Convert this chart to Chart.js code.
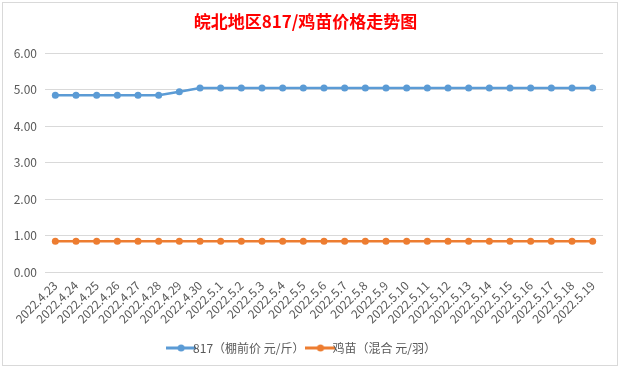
<!DOCTYPE html>
<html>
<head>
<meta charset="utf-8">
<script src="https://cdn.jsdelivr.net/npm/chart.js@4/dist/chart.umd.min.js"></script>
<style>
  html, body { margin: 0; padding: 0; background: #fff; }
  #wrap { width: 620px; height: 368px; position: relative; }
</style>
</head>
<body>
<div id="wrap"><canvas id="chartCanvas" width="620" height="368"></canvas></div>
<script>
const dates = [
  '2022.4.23','2022.4.24','2022.4.25','2022.4.26','2022.4.27','2022.4.28','2022.4.29','2022.4.30',
  '2022.5.1','2022.5.2','2022.5.3','2022.5.4','2022.5.5','2022.5.6','2022.5.7','2022.5.8','2022.5.9',
  '2022.5.10','2022.5.11','2022.5.12','2022.5.13','2022.5.14','2022.5.15','2022.5.16','2022.5.17',
  '2022.5.18','2022.5.19'
];

// 817 (棚前价 元/斤)
const price817 = [
  4.85, 4.85, 4.85, 4.85, 4.85, 4.85, 4.95, 5.05,
  5.05, 5.05, 5.05, 5.05, 5.05, 5.05, 5.05, 5.05, 5.05,
  5.05, 5.05, 5.05, 5.05, 5.05, 5.05, 5.05, 5.05,
  5.05, 5.05
];

// 鸡苗 (混合 元/羽)
const chickPrice = [
  0.85, 0.85, 0.85, 0.85, 0.85, 0.85, 0.85, 0.85,
  0.85, 0.85, 0.85, 0.85, 0.85, 0.85, 0.85, 0.85, 0.85,
  0.85, 0.85, 0.85, 0.85, 0.85, 0.85, 0.85, 0.85,
  0.85, 0.85
];

const seriesNames = ['817（棚前价 元/斤）', '鸡苗（混合 元/羽）'];
const seriesColors = ['#5b9bd5', '#ed7d31'];
const yTicks = [0, 1, 2, 3, 4, 5, 6];

const font = "'Noto Sans CJK SC', 'Noto Sans', sans-serif";
const textColor = '#595959';
const gridColor = '#d9d9d9';

// legend marker: short line with a dot in the middle
function legendMarker(color) {
  const c = document.createElement('canvas');
  c.width = 30;
  c.height = 10;
  const g = c.getContext('2d');
  g.strokeStyle = color;
  g.lineWidth = 3;
  g.beginPath();
  g.moveTo(0, 5);
  g.lineTo(30, 5);
  g.stroke();
  g.fillStyle = color;
  g.beginPath();
  g.arc(15, 5, 3.5, 0, Math.PI * 2);
  g.fill();
  return c;
}

// outer chart border, like the spreadsheet chart frame
const frame = {
  id: 'frame',
  beforeDraw: (chart) => {
    const ctx = chart.ctx;
    ctx.save();
    ctx.fillStyle = '#fff';
    ctx.fillRect(0, 0, chart.width, chart.height);
    ctx.strokeStyle = '#d9d9d9';
    ctx.lineWidth = 1;
    ctx.strokeRect(2.5, 2.5, 615, 363);
    ctx.restore();
  }
};

new Chart(document.getElementById('chartCanvas'), {
  type: 'line',
  data: {
    labels: dates,
    datasets: [
      {
        label: seriesNames[0],
        data: price817,
        borderColor: seriesColors[0],
        backgroundColor: seriesColors[0],
        borderWidth: 2.5,
        pointRadius: 3.5,
        pointBorderWidth: 0,
        tension: 0
      },
      {
        label: seriesNames[1],
        data: chickPrice,
        borderColor: seriesColors[1],
        backgroundColor: seriesColors[1],
        borderWidth: 2.5,
        pointRadius: 3.5,
        pointBorderWidth: 0,
        tension: 0
      }
    ]
  },
  options: {
    responsive: false,
    animation: false,
    layout: { padding: { left: 8, right: 17, top: 5, bottom: 4 } },
    scales: {
      x: {
        offset: true,
        grid: { display: false, drawTicks: false },
        border: { display: false },
        ticks: {
          color: textColor,
          font: { family: font, size: 12 },
          minRotation: 45,
          maxRotation: 45,
          autoSkip: false,
          padding: 6
        }
      },
      y: {
        min: 0,
        max: 6,
        afterBuildTicks: (scale) => {
          scale.ticks = yTicks.map(v => ({ value: v }));
        },
        afterFit: (scale) => { scale.width = 37; },
        grid: { color: gridColor, drawTicks: false, lineWidth: 1 },
        border: { display: false },
        ticks: {
          color: textColor,
          font: { family: font, size: 12 },
          padding: 8,
          callback: v => Number(v).toFixed(2)
        }
      }
    },
    plugins: {
      title: {
        display: true,
        text: '皖北地区817/鸡苗价格走势图',
        color: '#ff0000',
        font: { family: font, size: 17, weight: 'bold' },
        padding: { top: 6, bottom: 22 }
      },
      legend: {
        position: 'bottom',
        labels: {
          color: textColor,
          font: { family: font, size: 12 },
          usePointStyle: true,
          padding: 10,
          generateLabels: (chart) => chart.data.datasets.map((ds, i) => ({
            text: ds.label,
            fontColor: textColor,
            pointStyle: legendMarker(seriesColors[i]),
            datasetIndex: i,
            hidden: false,
            lineWidth: 0
          }))
        }
      },
      tooltip: { enabled: false }
    }
  },
  plugins: [frame]
});
</script>
</body>
</html>
